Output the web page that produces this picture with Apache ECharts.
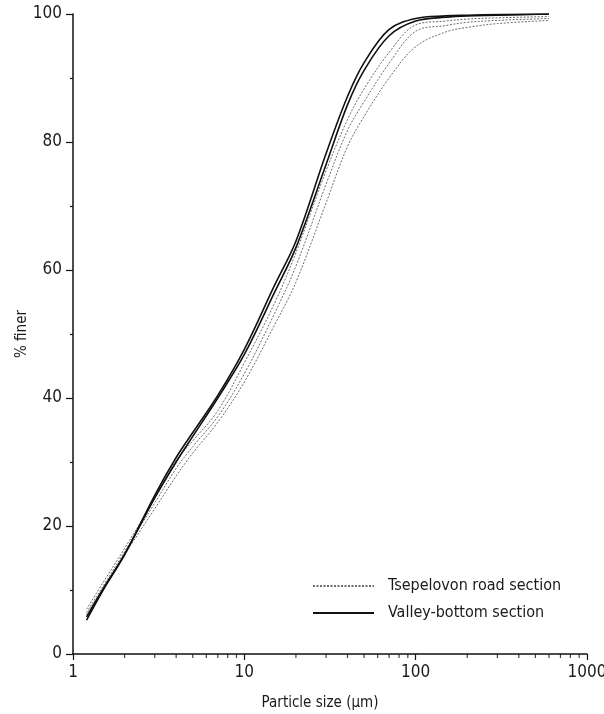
<html>
    <head>
        <meta charset="utf-8">
        <script src="https://cdn.jsdelivr.net/npm/echarts@6/dist/echarts.min.js"></script>
    </head>
    <body>
        <style>
            html, body, #main {
                width: 100%;
                height: 100%;
                margin: 0;
                background: #fff;
            }
        </style>
        <div id='main'></div>
        <script type="text/javascript">
            // particle sizes (um) shared by every curve
            var sizes = [1.2, 1.5, 2, 3, 4, 5, 7, 10, 15, 20, 30, 40, 50, 70, 100, 150, 200, 300, 600];

            // valley-bottom samples (solid)
            var valleyA = [5.3, 10.0, 15.5, 24.8, 30.7, 34.6, 40.4, 47.6, 57.6, 64.5, 78.2, 87.1, 92.4, 97.6, 99.3, 99.7, 99.8, 99.9, 100];
            var valleyB = [5.8, 10.2, 15.6, 24.4, 30.0, 34.0, 40.0, 46.8, 56.5, 63.5, 76.5, 85.8, 91.2, 96.6, 98.9, 99.5, 99.7, 99.8, 100];

            // Tsepelovon road samples (dotted)
            var roadA = [7.0, 11.2, 16.5, 24.3, 30.2, 33.3, 38.0, 45.5, 54.8, 62.7, 75.5, 83.5, 88.3, 94.0, 98.3, 98.9, 99.2, 99.4, 99.6];
            var roadB = [6.5, 10.6, 16.0, 23.6, 29.0, 32.4, 37.1, 43.8, 53.2, 60.6, 73.4, 81.8, 86.3, 92.3, 97.3, 98.2, 98.7, 99.0, 99.3];
            var roadC = [6.2, 10.2, 15.5, 22.7, 27.8, 31.4, 36.2, 42.5, 51.4, 58.1, 70.5, 79.3, 84.0, 90.0, 94.9, 97.2, 97.9, 98.5, 99.0];

            // minor ticks of the log axis
            var minorTicks = [2, 3, 4, 5, 6, 7, 8, 9, 20, 30, 40, 50, 60, 70, 80, 90, 200, 300, 400, 500, 600, 700, 800, 900];

            var ROAD = 'Tsepelovon road section';
            var VALLEY = 'Valley-bottom section';
            var font = "'Liberation Sans Narrow', 'DejaVu Sans Condensed', sans-serif";

            function pairs(ys) {
                return sizes.map(function (x, i) { return [x, ys[i]]; });
            }

            function curve(name, ys, dotted) {
                var col = dotted ? '#6a6a6a' : '#111';
                return {
                    name: name,
                    type: 'line',
                    data: pairs(ys),
                    smooth: 0.35,
                    symbol: 'none',
                    silent: true,
                    z: dotted ? 2 : 3,
                    itemStyle: { color: col },
                    lineStyle: dotted
                        ? { color: col, width: 1, type: [2, 1.5] }
                        : { color: col, width: 1.6 }
                };
            }

            var chart = echarts.init(document.getElementById('main'));
            var option = {
                animation: false,
                textStyle: { fontFamily: font },
                grid: { left: 73, right: 17, top: 14, bottom: 60, outerBoundsMode: 'none' },
                legend: {
                    data: [ROAD, VALLEY],
                    orient: 'vertical',
                    left: 307,
                    top: 573,
                    itemWidth: 61,
                    itemHeight: 14,
                    itemGap: 11,
                    itemStyle: { opacity: 0 },
                    textStyle: { fontFamily: font, fontSize: 16, color: '#1a1a1a', padding: [0, 0, 0, 9] }
                },
                xAxis: {
                    type: 'log',
                    logBase: 10,
                    min: 1,
                    max: 1000,
                    name: 'Particle size (\u00b5m)',
                    nameLocation: 'middle',
                    nameGap: 42,
                    nameMoveOverlap: false,
                    nameTextStyle: { fontFamily: font, fontSize: 15, color: '#1a1a1a', padding: [0, 20, 0, 0] },
                    axisLine: { lineStyle: { color: '#111', width: 1.5 } },
                    axisTick: { length: 6, lineStyle: { color: '#111', width: 1.2 } },
                    axisLabel: {
                        fontFamily: font, fontSize: 17, color: '#1a1a1a', margin: 10,
                        formatter: function (v) { return String(v); }
                    },
                    splitLine: { show: false }
                },
                yAxis: {
                    type: 'value',
                    min: 0,
                    max: 100,
                    interval: 20,
                    name: '% finer',
                    nameLocation: 'middle',
                    nameGap: 43,
                    nameMoveOverlap: false,
                    nameTextStyle: { fontFamily: font, fontSize: 15, color: '#1a1a1a' },
                    axisLine: { show: true, lineStyle: { color: '#111', width: 1.5 } },
                    axisTick: { show: true, length: 7, lineStyle: { color: '#111', width: 1.2 } },
                    minorTick: { show: true, splitNumber: 2, length: 3, lineStyle: { color: '#111', width: 1.2 } },
                    axisLabel: { fontFamily: font, fontSize: 17, color: '#1a1a1a', margin: 11 },
                    splitLine: { show: false }
                },
                series: [
                    curve(ROAD, roadC, true),
                    curve(ROAD, roadB, true),
                    curve(ROAD, roadA, true),
                    curve(VALLEY, valleyB, false),
                    curve(VALLEY, valleyA, false),
                    {
                        name: 'minor ticks',
                        type: 'scatter',
                        silent: true,
                        symbol: 'rect',
                        symbolSize: [1.2, 4],
                        symbolOffset: [0, 2],
                        itemStyle: { color: '#111' },
                        data: minorTicks.map(function (v) { return [v, 0]; }),
                        clip: false
                    }
                ]
            };
            chart.setOption(option);
            window.onresize = chart.resize;
        </script>
    </body>
</html>
